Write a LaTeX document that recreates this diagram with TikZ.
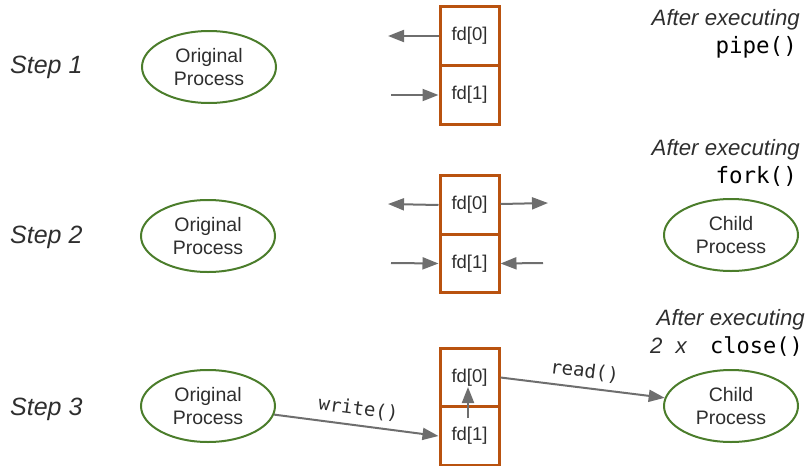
\documentclass[tikz,border=0pt]{standalone}
\usepackage{fontspec}
\setmainfont{Liberation Sans}
\setmonofont{DejaVu Sans Mono}
\usetikzlibrary{arrows.meta,shapes.geometric,calc}
\definecolor{txt}{HTML}{2E2E2E}
\definecolor{grn}{HTML}{4B7D2B}
\definecolor{brn}{HTML}{B9520F}
\definecolor{arr}{HTML}{6E6E6E}
\tikzset{conntip/.tip={Triangle[length=16pt,width=12pt]}}
\begin{document}
\begin{tikzpicture}[x=1pt,y=-1pt,
  proc/.style={ellipse,draw=grn,line width=2pt,minimum width=134pt,minimum height=72pt,
    align=center,text=txt,font=\fontsize{19.5}{22.5}\selectfont,inner sep=0pt},
  fdbox/.style={rectangle,draw=brn,line width=3pt,minimum width=59pt,minimum height=58.5pt,
    text=txt,font=\fontsize{18.5}{22}\selectfont,inner sep=0pt},
  steplbl/.style={text=txt,font=\fontsize{25}{28}\selectfont\itshape,anchor=west,inner sep=0pt},
  after/.style={text=txt,font=\fontsize{22.2}{26}\selectfont\itshape,anchor=east,inner sep=0pt},
  code/.style={text=black,font=\fontsize{22.5}{26}\selectfont\ttfamily,anchor=east,inner sep=0pt},
  conn/.style={draw=arr,line width=2pt,-conntip},
  clbl/.style={text=txt,font=\fontsize{19}{22}\selectfont\ttfamily,inner sep=0pt}]
\useasboundingbox (0,0) rectangle (809,466);
% Step 1
\node[steplbl] (st1) at (10,67) {Step 1};
\node[proc] (o1) at (209,67) {Original\\Process};
\node[fdbox] (a1) at (469.5,36) {fd[0]};
\node[fdbox] (b1) at (469.5,95) {fd[1]};
\node[after] (af1) at (800,20) {After executing};
\node[code] (cd1) at (797,47) {pipe()};
\coordinate (a1l) at (388,36);
\coordinate (b1l) at (391,95);
\draw[conn] (a1.west) -- (a1l);
\draw[conn] (b1l) -- (b1.west);
% Step 2
\node[steplbl] (st2) at (10,237) {Step 2};
\node[proc] (o2) at (208,236) {Original\\Process};
\node[proc] (c2) at (731,235) {Child\\Process};
\node[fdbox] (a2) at (469.5,205) {fd[0]};
\node[fdbox] (b2) at (469.5,263.5) {fd[1]};
\node[after] (af2) at (800,150) {After executing};
\node[code] (cd2) at (797,176) {fork()};
\coordinate (a2l) at (388,204);
\coordinate (a2r) at (548,203);
\coordinate (b2l) at (391,263);
\coordinate (b2r) at (543,263);
\draw[conn] (a2.west) -- (a2l);
\draw[conn] ($(a2.east)+(0,-1)$) -- (a2r);
\draw[conn] (b2l) -- (b2.west);
\draw[conn] (b2r) -- (b2.east);
% Step 3
\node[steplbl] (st3) at (10,409) {Step 3};
\node[proc] (o3) at (208,406) {Original\\Process};
\node[proc] (c3) at (731,406) {Child\\Process};
\node[fdbox] (a3) at (469.5,377.5) {fd[0]};
\node[fdbox] (b3) at (469.5,436) {fd[1]};
\node[after] (af3) at (805,320) {After executing};
\node[anchor=east,inner sep=0pt] (cd3) at (803,347) {\textcolor{txt}{\fontsize{22.2}{26}\selectfont\itshape 2\hspace{0.6em}x\hspace{1.05em}}\textcolor{black}{\fontsize{22}{26}\selectfont\ttfamily close()}};
\coordinate (up1) at (468,418);
\coordinate (up2) at (468,387);
\draw[conn] (up1) -- (up2);
\draw[conn] (o3) -- (b3.west) node[clbl,midway,above=7pt,sloped] (wl) {write()};
\draw[conn] (a3.east) -- (c3) node[clbl,midway,above=7pt,sloped] (rl) {read()};
\end{tikzpicture}
\end{document}
